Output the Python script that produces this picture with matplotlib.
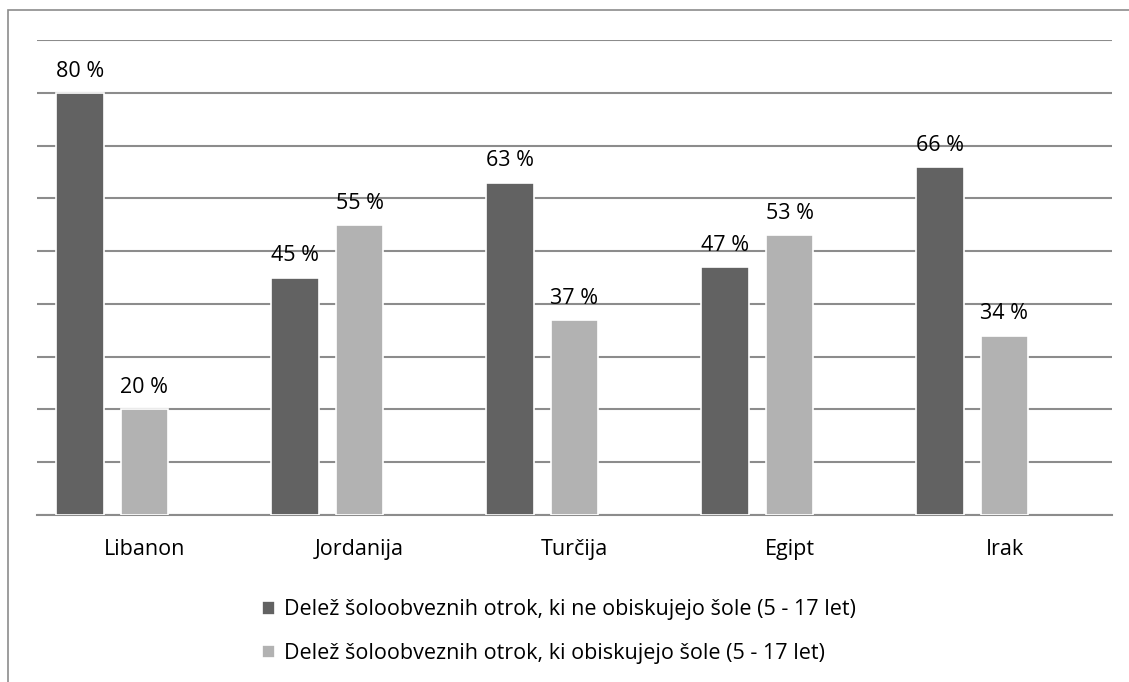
import numpy as np
import matplotlib.pyplot as plt
from matplotlib.patches import Rectangle

countries = ["Libanon", "Jordanija", "Turčija", "Egipt", "Irak"]
not_attending = [80, 45, 63, 47, 66]
attending = [20, 55, 37, 53, 34]
series_labels = [
    "Delež šoloobveznih otrok, ki ne obiskujejo šole (5 - 17 let)",
    "Delež šoloobveznih otrok, ki obiskujejo šole (5 - 17 let)",
]

plt.rcParams['font.family'] = ['Open Sans', 'DejaVu Sans']

fig = plt.figure(figsize=(11.29, 6.82), dpi=100)
ax = fig.add_axes([37 / 1129, 1 - 515 / 682, (1112 - 37) / 1129, (515 - 40) / 682])

# outer frame (right and bottom edges fall outside the picture)
fig.patches.append(Rectangle((8 / 1129, -0.1), 1.2, 1 - 10 / 682 + 0.1,
                             transform=fig.transFigure, fill=False,
                             edgecolor='#8c8c8c', linewidth=1.2))

x = np.arange(len(countries))
width = 0.223
offset = 0.298
dark = '#626262'
light = '#b2b2b2'
fs = 15.5

b1 = ax.bar(x - offset, not_attending, width, color=dark, edgecolor='white',
            linewidth=1.2, label=series_labels[0], zorder=3)
b2 = ax.bar(x, attending, width, color=light, edgecolor='white',
            linewidth=1.2, label=series_labels[1], zorder=3)

for bars in (b1, b2):
    for rect in bars:
        h = rect.get_height()
        ax.annotate(f"{h:.0f} %", (rect.get_x() + rect.get_width() / 2, h),
                    xytext=(0, 8), textcoords='offset points',
                    ha='center', va='bottom', fontsize=fs, color='black')

ax.set_xlim(-0.5, len(countries) - 0.5)
ax.set_ylim(0, 90)
ax.set_yticks(np.arange(0, 91, 10))
ax.set_yticklabels([])
ax.yaxis.grid(True, color='#8c8c8c', linewidth=1.5, zorder=0)
ax.set_axisbelow(True)
ax.tick_params(axis='both', length=0)
ax.set_xticks(x)
ax.set_xticklabels(countries, fontsize=fs)
ax.tick_params(axis='x', pad=17)
for side in ('top', 'right', 'left'):
    ax.spines[side].set_visible(False)
ax.spines['bottom'].set_color('#8c8c8c')
ax.spines['bottom'].set_linewidth(1.5)

fig.legend(handles=[b1, b2], labels=series_labels, loc='upper left',
           bbox_to_anchor=(243 / 1129, 1 - 580 / 682), frameon=False,
           fontsize=fs, handlelength=0.6, handleheight=0.6, handletextpad=0.4,
           labelspacing=1.05)

fig.savefig('out.png', dpi=100)
